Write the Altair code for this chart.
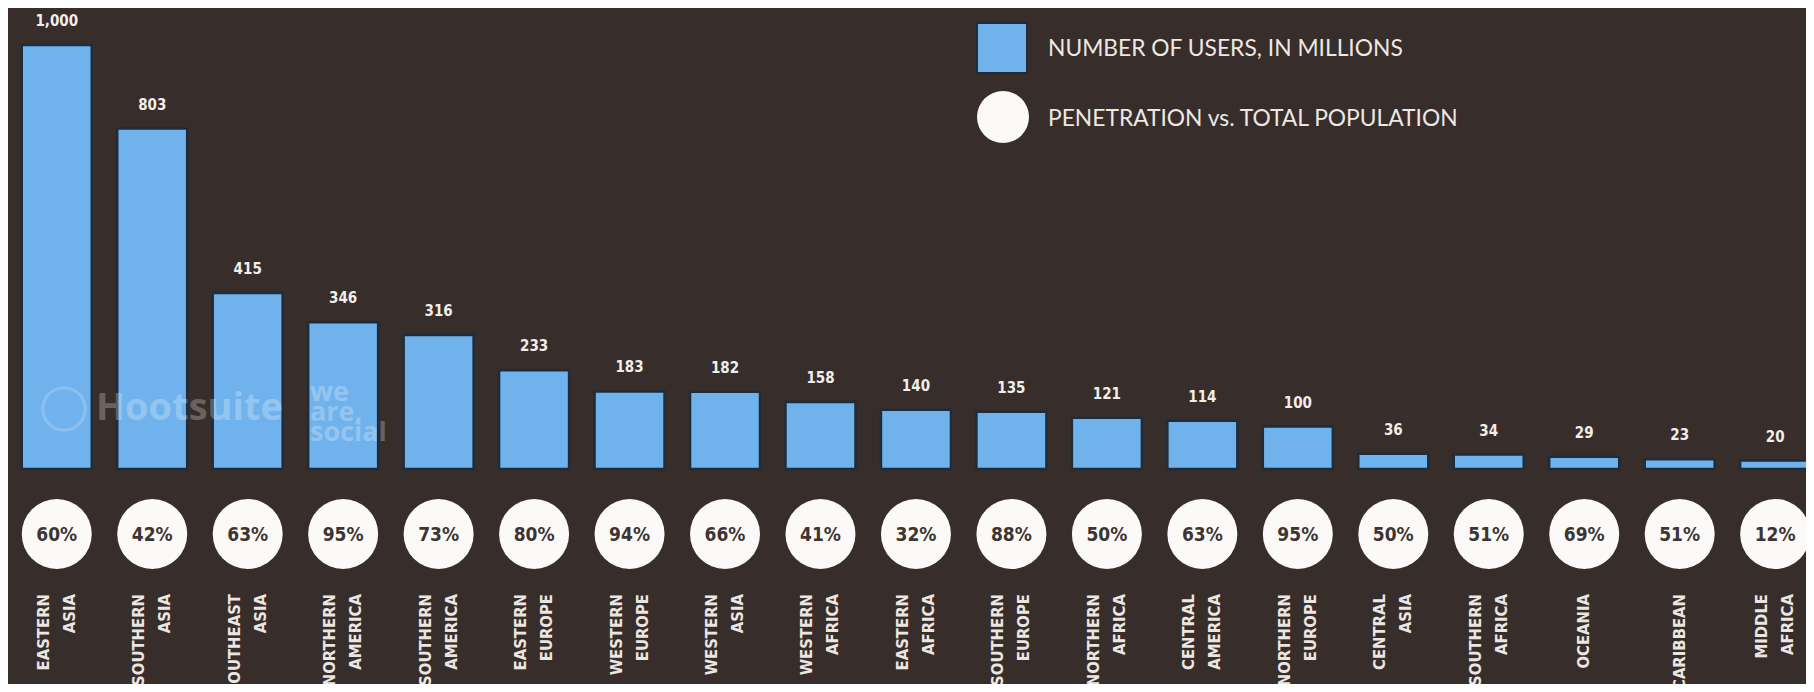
import altair as alt
import pandas as pd

regions = ["EASTERN\nASIA", "SOUTHERN\nASIA", "SOUTHEAST\nASIA", "NORTHERN\nAMERICA",
           "SOUTHERN\nAMERICA", "EASTERN\nEUROPE", "WESTERN\nEUROPE", "WESTERN\nASIA",
           "WESTERN\nAFRICA", "EASTERN\nAFRICA", "SOUTHERN\nEUROPE", "NORTHERN\nAFRICA",
           "CENTRAL\nAMERICA", "NORTHERN\nEUROPE", "CENTRAL\nASIA", "SOUTHERN\nAFRICA",
           "OCEANIA", "CARIBBEAN", "MIDDLE\nAFRICA"]
users = [1000, 803, 415, 346, 316, 233, 183, 182, 158, 140, 135, 121, 114, 100, 36, 34, 29, 23, 20]
penetration = [60, 42, 63, 95, 73, 80, 94, 66, 41, 32, 88, 50, 63, 95, 50, 51, 69, 51, 12]

legend_labels = ["NUMBER OF USERS, IN MILLIONS", "PENETRATION vs. TOTAL POPULATION"]

BG = "#372d2a"
BLUE = "#6fb2ec"
WHITE = "#fbfaf8"

df = pd.DataFrame({
    "idx": list(range(len(regions))),
    "region": regions,
    "users": users,
    "pen": [f"{p}%" for p in penetration],
    "multi": ["\n" in r for r in regions],
})

W, H = 1798, 676
xs = alt.Scale(domain=[-0.4583, 18.2708], nice=False, zero=False)
ys = alt.Scale(domain=[-507.1, 1087.3], nice=False, zero=False)
X = alt.X("idx:Q", scale=xs, axis=None)
Y = alt.Y("users:Q", scale=ys, axis=None)

base = alt.Chart(df)

bars = base.mark_bar(size=70, color=BLUE, stroke="#1f2c3a", strokeWidth=2.5).encode(
    x=X, y=Y, y2=alt.datum(0),
)

vals = base.mark_text(color="#f2eeea", font="DejaVu Sans Condensed", fontWeight="bold",
                      fontSize=15, baseline="middle", dy=-24).encode(
    x=X, y=Y, text=alt.Text("users:Q", format=","),
)

circles = base.mark_point(shape="circle", filled=True, size=4900, color=WHITE, opacity=1).encode(
    x=X, y=alt.value(526),
)

pens = base.mark_text(color="#3d3532", font="DejaVu Sans Condensed", fontWeight="bold",
                      fontSize=19, baseline="middle", dy=1).encode(
    x=X, y=alt.value(526), text="pen:N",
)

label_style = dict(color="#ebe6e2", font="DejaVu Sans Condensed", fontWeight="bold",
                   fontSize=16.5, angle=270, align="right", baseline="middle",
                   lineBreak="\n", lineHeight=26)
labels2 = base.transform_filter("datum.multi").mark_text(dy=-13, **label_style).encode(
    x=X, y=alt.value(586), text="region:N",
)
labels1 = base.transform_filter("!datum.multi").mark_text(**label_style).encode(
    x=X, y=alt.value(586), text="region:N",
)

leg_df = pd.DataFrame({"label": legend_labels})
leg_sq = alt.Chart(leg_df.iloc[[0]]).mark_point(shape="square", filled=True, size=2500,
                                                 color=BLUE, stroke="#1f2c3a", strokeWidth=2, opacity=1).encode(
    x=alt.value(994), y=alt.value(40))
leg_ci = alt.Chart(leg_df.iloc[[1]]).mark_point(shape="circle", filled=True, size=2704,
                                                 color=WHITE, opacity=1).encode(
    x=alt.value(995), y=alt.value(109))
leg_t1 = alt.Chart(leg_df.iloc[[0]]).mark_text(color="#ece8e4", font="Lato", fontSize=22.8,
                                                align="left", baseline="middle").encode(
    x=alt.value(1040), y=alt.value(41), text="label:N")
leg_t2 = alt.Chart(leg_df.iloc[[1]]).mark_text(color="#ece8e4", font="Lato", fontSize=22.8,
                                                align="left", baseline="middle").encode(
    x=alt.value(1040), y=alt.value(111), text="label:N")

wm_df = pd.DataFrame({"t": ["Hootsuite", "we\nare,\nsocial"]})
wm1 = alt.Chart(wm_df.iloc[[0]]).mark_text(color="#ffffff", opacity=0.25, font="Open Sans",
                                           fontWeight="bold", fontSize=38, align="left",
                                           baseline="middle").encode(
    x=alt.value(88), y=alt.value(401), text="t:N")
wm2 = alt.Chart(wm_df.iloc[[1]]).mark_text(color="#ffffff", opacity=0.25, font="Open Sans",
                                           fontWeight="bold", fontSize=27, align="left",
                                           baseline="middle", lineBreak="\n", lineHeight=20).encode(
    x=alt.value(302), y=alt.value(385), text="t:N")
wm_icon = alt.Chart(wm_df.iloc[[0]]).mark_point(shape="circle", filled=False, size=1800,
                                                stroke="#ffffff", strokeWidth=3, opacity=0.2).encode(
    x=alt.value(56), y=alt.value(401))

chart = alt.layer(bars, vals, circles, pens, labels2, labels1, leg_sq, leg_ci, leg_t1, leg_t2,
                  wm1, wm2, wm_icon).properties(
    width=W, height=H, background=BG, padding=0,
    autosize=alt.AutoSizeParams(type="none"),
).configure_view(stroke=None, fill=BG)

chart.save("out.html", embed_options={"renderer": "svg", "actions": False})
